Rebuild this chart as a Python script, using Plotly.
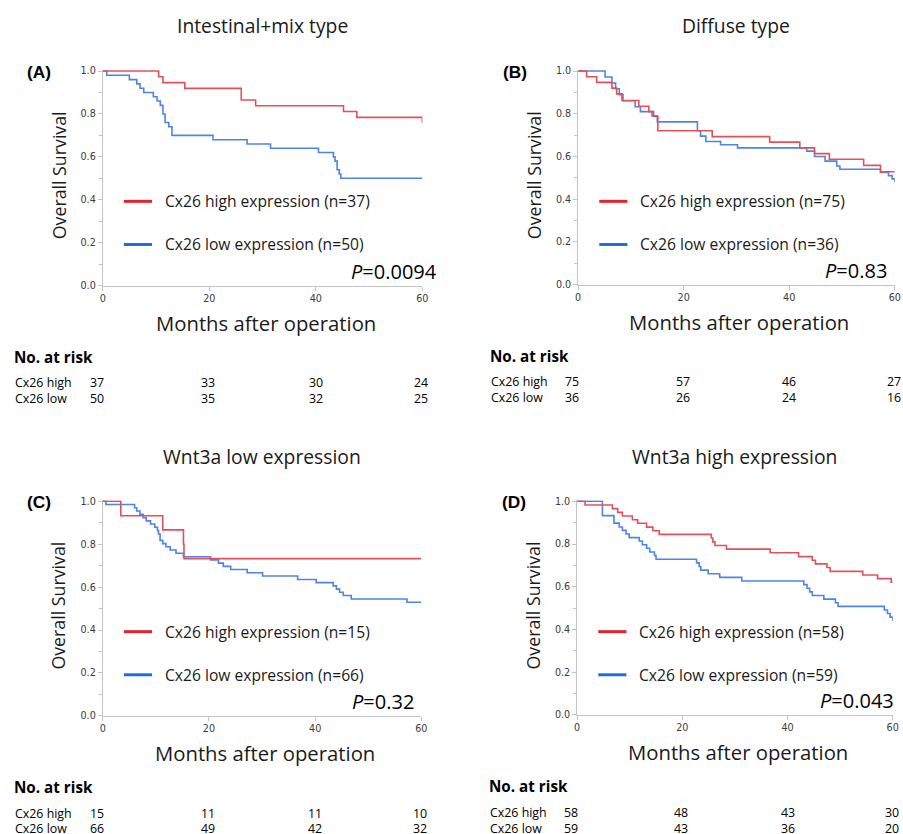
import plotly.graph_objects as go

# ---------------- data ----------------
risk_months = [0, 20, 40, 60]

# (A) Intestinal+mix type
a_high_months = [0, 10.5, 11.3, 15.4, 26.0, 28.7, 45.2, 47.7, 60]
a_high_surv = [1.0, 0.973, 0.946, 0.919, 0.865, 0.838, 0.811, 0.784, 0.757]
a_low_months = [0, 0.75, 5.0, 6.4, 7.0, 7.7, 9.5, 10.2, 10.8, 11.3, 11.7, 12.4, 13.0,
                20.7, 27.1, 31.5, 40.5, 43.3, 43.6, 44.0, 44.4, 44.7, 60]
a_low_surv = [1.0, 0.98, 0.96, 0.94, 0.92, 0.90, 0.88, 0.86, 0.84, 0.80, 0.76, 0.74, 0.70,
              0.68, 0.66, 0.64, 0.62, 0.60, 0.58, 0.54, 0.52, 0.50, 0.50]
a_risk_high = [37, 33, 30, 24]
a_risk_low = [50, 35, 32, 25]

# (B) Diffuse type
b_high_months = [0, 1.6, 3.5, 6.4, 7.3, 8.3, 11.5, 13.4, 14.3, 15.1, 25.4, 36.3, 42.0,
                 44.8, 47.6, 54.1, 57.3, 60]
b_high_surv = [1.0, 0.973, 0.947, 0.92, 0.893, 0.862, 0.835, 0.81, 0.787, 0.72, 0.693,
               0.667, 0.64, 0.613, 0.587, 0.558, 0.528, 0.528]
b_low_months = [0, 5.1, 6.4, 7.1, 7.8, 8.5, 10.8, 11.8, 14.0, 15.0, 22.6, 23.2, 24.2,
                27.0, 30.2, 43.3, 44.8, 46.8, 49.0, 49.6, 57.3, 58.8, 59.5, 60]
b_low_surv = [1.0, 0.972, 0.944, 0.917, 0.889, 0.861, 0.833, 0.81, 0.79, 0.762, 0.72,
              0.695, 0.67, 0.655, 0.64, 0.625, 0.60, 0.578, 0.555, 0.54, 0.525, 0.51,
              0.495, 0.48]
b_risk_high = [75, 57, 46, 27]
b_risk_low = [36, 26, 24, 16]

# (C) Wnt3a low expression
c_high_months = [0, 3.4, 11.3, 15.2, 15.3, 60]
c_high_surv = [1.0, 0.933, 0.867, 0.80, 0.733, 0.733]
c_low_months = [0, 0.6, 6.0, 6.4, 7.0, 7.6, 8.2, 9.0, 9.8, 10.3, 10.5, 10.8, 11.3, 11.9,
                12.7, 13.8, 15.2, 20.3, 21.8, 22.7, 24.1, 27.2, 30.1, 36.7, 40.2, 43.4,
                44.0, 44.6, 45.3, 46.8, 57.3, 60]
c_low_surv = [1.0, 0.985, 0.97, 0.955, 0.94, 0.924, 0.909, 0.894, 0.879, 0.864, 0.848,
              0.818, 0.803, 0.788, 0.773, 0.758, 0.742, 0.727, 0.712, 0.697, 0.682,
              0.667, 0.652, 0.636, 0.621, 0.606, 0.591, 0.576, 0.561, 0.545, 0.530, 0.530]
c_risk_high = [15, 11, 11, 10]
c_risk_low = [66, 49, 42, 32]

# (D) Wnt3a high expression
d_high_months = [0, 1.5, 6.7, 7.7, 8.6, 10.5, 11.5, 13.2, 14.4, 15.6, 25.5, 25.8, 26.2,
                 28.4, 36.7, 42.1, 44.7, 45.3, 47.5, 48.1, 54.3, 57.1, 59.7, 60]
d_high_surv = [1.0, 0.983, 0.966, 0.948, 0.931, 0.914, 0.897, 0.879, 0.862, 0.845,
               0.828, 0.81, 0.793, 0.776, 0.759, 0.741, 0.724, 0.707, 0.690, 0.672,
               0.655, 0.638, 0.621, 0.621]
d_low_months = [0, 4.8, 7.0, 8.0, 8.6, 9.3, 9.9, 11.8, 12.4, 13.2, 13.8, 14.7, 15.0,
                22.7, 23.2, 23.5, 24.9, 27.1, 31.3, 43.1, 43.7, 44.2, 44.7, 46.9, 49.1,
                49.6, 58.4, 59.0, 59.5, 60]
d_low_surv = [1.0, 0.933, 0.898, 0.88, 0.864, 0.847, 0.83, 0.814, 0.797, 0.78, 0.763,
              0.746, 0.729, 0.712, 0.695, 0.678, 0.661, 0.644, 0.627, 0.61, 0.593,
              0.576, 0.559, 0.542, 0.525, 0.508, 0.491, 0.475, 0.458, 0.44]
d_risk_high = [58, 48, 43, 30]
d_risk_low = [59, 43, 36, 20]

panel_titles = ["Intestinal+mix type", "Diffuse type",
                "Wnt3a low expression", "Wnt3a high expression"]
panel_tags = ["(A)", "(B)", "(C)", "(D)"]
n_high = [37, 75, 15, 58]
n_low = [50, 36, 66, 59]
p_values = ["0.0094", "0.83", "0.32", "0.043"]
y_ticks = [0.0, 0.2, 0.4, 0.6, 0.8, 1.0]

# ---------------- layout helpers ----------------
W, H = 903, 834
S = 0.985  # compensation for the slight shrink observed when the page is photographed
# plot rectangles in reference pixels: left, top, right, bottom
rects = [(106, 71, 424, 286), (579, 71, 894, 285),
         (106, 500, 423, 715), (578, 500, 892, 714)]
p_right = [441, 888, 418, 900]
risk_shift = [-6, -1, 0, -1]

RED_CURVE = "#e4505a"
BLUE_CURVE = "#4f83ea"
RED_LEG = "#e3232d"
BLUE_LEG = "#1f6fd6"
TXT = "#1a1a1a"
FONT = "Open Sans"


def px(x):
    d = W / 2 + (x - W / 2) / S
    return min(max(d, 0), W - 1) / W


def py(y):
    d = H / 2 + (y - H / 2) / S
    return 1 - min(max(d, 0), H - 1) / H


def fs(size):
    return round(size / S, 2)


panels = [
    (a_high_months, a_high_surv, a_low_months, a_low_surv, a_risk_high, a_risk_low),
    (b_high_months, b_high_surv, b_low_months, b_low_surv, b_risk_high, b_risk_low),
    (c_high_months, c_high_surv, c_low_months, c_low_surv, c_risk_high, c_risk_low),
    (d_high_months, d_high_surv, d_low_months, d_low_surv, d_risk_high, d_risk_low),
]

fig = go.Figure()
annotations = []
shapes = []
layout_axes = {}
tickfont = dict(size=fs(9.5), color="#3a3a3a", family="DejaVu Sans")

for i, (hm, hs, lm, ls, rh, rl) in enumerate(panels):
    k = "" if i == 0 else str(i + 1)
    xa, ya = "x" + k, "y" + k
    L, T, R, B = rects[i]
    fig.add_trace(go.Scatter(x=lm, y=ls, mode="lines", line=dict(color=BLUE_CURVE, width=1.6, shape="hv"),
                             xaxis=xa, yaxis=ya, showlegend=False, hoverinfo="skip"))
    fig.add_trace(go.Scatter(x=hm, y=hs, mode="lines", line=dict(color=RED_CURVE, width=1.6, shape="hv"),
                             xaxis=xa, yaxis=ya, showlegend=False, hoverinfo="skip"))
    layout_axes["xaxis" + k] = dict(
        domain=[px(L), px(R)], anchor=ya, range=[0, 60], tickvals=risk_months,
        showline=True, linecolor="#c4c4c4", linewidth=1, ticks="outside", ticklen=4,
        tickcolor="#c4c4c4", tickfont=tickfont,
        showgrid=False, zeroline=False, fixedrange=True)
    layout_axes["yaxis" + k] = dict(
        domain=[py(B), py(T)], anchor=xa, range=[0, 1.005], tickvals=y_ticks,
        tickformat=".1f", showline=True, linecolor="#c4c4c4", linewidth=1,
        ticks="outside", ticklen=4, tickcolor="#c4c4c4",
        minor=dict(dtick=0.1, tick0=0, ticks="outside", ticklen=3, tickcolor="#c4c4c4"),
        tickfont=tickfont, showgrid=False, zeroline=False, fixedrange=True)

    cx = (L + R) / 2
    # panel title
    annotations.append(dict(x=px(cx), y=py(T - 44), xref="paper", yref="paper", text=panel_titles[i],
                            showarrow=False, font=dict(size=fs(19), color=TXT, family=FONT),
                            xanchor="center", yanchor="middle"))
    # tag
    annotations.append(dict(x=px(L - 63), y=py(T + 2), xref="paper", yref="paper", text="<b>%s</b>" % panel_tags[i],
                            showarrow=False, font=dict(size=fs(17), color="#000", family="Liberation Sans"),
                            xanchor="center", yanchor="middle"))
    # y title
    annotations.append(dict(x=px(L - 44), y=py((T + B) / 2 - 2), xref="paper", yref="paper",
                            text="Overall Survival", textangle=-90, showarrow=False,
                            font=dict(size=fs(17.5), color=TXT, family=FONT), xanchor="center", yanchor="middle"))
    # x title
    annotations.append(dict(x=px(cx + 3), y=py(B + 37), xref="paper", yref="paper",
                            text="Months after operation", showarrow=False,
                            font=dict(size=fs(20), color=TXT, family=FONT), xanchor="center", yanchor="middle"))
    # legend
    for j, (col, lab, dy) in enumerate([(RED_LEG, "Cx26 high expression (n=%d)" % n_high[i], 131),
                                        (BLUE_LEG, "Cx26 low expression (n=%d)" % n_low[i], 174)]):
        shapes.append(dict(type="line", xref="paper", yref="paper", x0=px(L + 21), x1=px(L + 49),
                           y0=py(T + dy), y1=py(T + dy), line=dict(color=col, width=3)))
        annotations.append(dict(x=px(L + 60), y=py(T + dy), xref="paper", yref="paper", text=lab,
                                showarrow=False, font=dict(size=fs(15.4), color=TXT, family=FONT),
                                xanchor="left", yanchor="middle"))
    # p value
    annotations.append(dict(x=px(p_right[i]), y=py(B - 14), xref="paper", yref="paper",
                            text="<i>P</i>=%s" % p_values[i], showarrow=False,
                            font=dict(size=fs(19.7), color="#000", family=FONT), xanchor="right", yanchor="middle"))
    # risk table
    annotations.append(dict(x=px(L - 90), y=py(B + 71), xref="paper", yref="paper", text="<b>No. at risk</b>",
                            showarrow=False, font=dict(size=fs(15), color="#000", family=FONT),
                            xanchor="left", yanchor="middle"))
    for lab, vals, dy in [("Cx26 high", rh, 97), ("Cx26 low", rl, 113)]:
        annotations.append(dict(x=px(L - 89), y=py(B + dy), xref="paper", yref="paper", text=lab,
                                showarrow=False, font=dict(size=fs(12.2), color="#000", family=FONT),
                                xanchor="left", yanchor="middle"))
        for t, v, sh in zip(risk_months, vals, risk_shift):
            annotations.append(dict(x=t, y=py(B + dy), xref=xa, yref="paper", text=str(v), xshift=sh,
                                    showarrow=False, font=dict(size=fs(12.2), color="#000", family=FONT),
                                    xanchor="center", yanchor="middle"))

fig.update_layout(width=W, height=H, margin=dict(l=0, r=0, t=0, b=0),
                  paper_bgcolor="white", plot_bgcolor="white",
                  annotations=annotations, shapes=shapes, **layout_axes)

fig.write_html("out.html", config={"displayModeBar": False},
               post_script="document.body.style.margin='0px';document.body.style.overflow='hidden';")
